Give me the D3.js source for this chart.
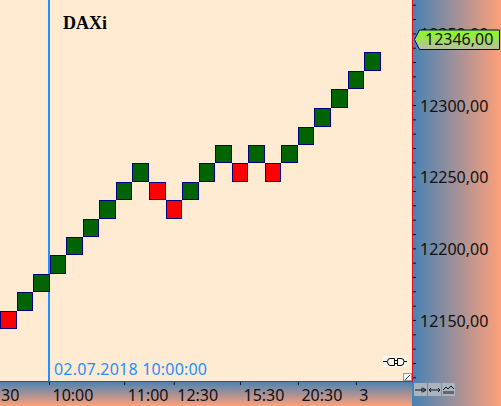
<!DOCTYPE html>
<html>
<head>
<meta charset="utf-8">
<script src="https://cdn.jsdelivr.net/npm/d3@7"></script>
<style>
  html, body { margin: 0; padding: 0; background: #ffebd2; }
  svg { display: block; }
  text { font-family: "Noto Sans", sans-serif; }
</style>
</head>
<body>
<div id="chart"></div>
<script>
// renko bricks, left to right
const brickLow = [12143.7, 12156.5, 12169.4, 12182.2, 12195.0, 12207.9, 12220.7, 12233.6, 12246.4,
  12233.6, 12220.7, 12233.6, 12246.4, 12259.3, 12246.4, 12259.3, 12246.4, 12259.3,
  12272.1, 12285.0, 12297.8, 12311.0, 12323.5];
const brickHigh = [12156.5, 12169.4, 12182.2, 12195.0, 12207.9, 12220.7, 12233.6, 12246.4, 12259.3,
  12246.4, 12233.6, 12246.4, 12259.3, 12272.1, 12259.3, 12272.1, 12259.3, 12272.1,
  12285.0, 12297.8, 12311.0, 12323.5, 12337.0];
const brickUp = [0, 1, 1, 1, 1, 1, 1, 1, 1, 0, 0, 1, 1, 1, 0, 1, 0, 1, 1, 1, 1, 1, 1];

// time axis: position in brick units and label
const timePos = [2.46, 7, 10, 14, 17.5, 21];
const timeLabels = ['10:00', '11:00', '12:30', '15:30', '20:30', '3'];

const priceLabels = [12350, 12300, 12250, 12200, 12150];
const lastPrice = 12346;
const cursorPos = 2.46;
const cursorLabel = '02.07.2018 10:00:00';
const title = 'DAXi';

const width = 501, height = 406;
const plotW = 412, plotH = 381;
const labelSize = '16px';

const svg = d3.select('#chart').append('svg')
  .attr('width', width)
  .attr('height', height);

const defs = svg.append('defs');

function addGradient(id, x2, y2, stops) {
  const g = defs.append('linearGradient')
    .attr('id', id)
    .attr('x1', 0).attr('y1', 0)
    .attr('x2', x2).attr('y2', y2);
  stops.forEach((c, i) => {
    g.append('stop').attr('offset', i / (stops.length - 1)).attr('stop-color', c);
  });
}
addGradient('panel-h', 1, 0, ['#4682b4', '#ffa07a']);
addGradient('panel-v', 0, 1, ['#4682b4', '#ffa07a']);
addGradient('tag-fill', 0, 1, ['#86ff10', '#b9bda6']);

// scales
const x = d3.scaleBand()
  .domain(d3.range(brickLow.length))
  .range([0, 16.55 * brickLow.length]);
const xPos = i => x.bandwidth() * (i + 0.5);
const y = d3.scaleLinear()
  .domain([12107.4, 12373.3])
  .range([plotH, 0]);

// backgrounds
svg.append('rect')
  .attr('width', plotW).attr('height', plotH)
  .attr('fill', '#ffebd2');
svg.append('rect')
  .attr('x', plotW).attr('width', width - plotW).attr('height', height)
  .attr('fill', 'url(#panel-h)');
svg.append('rect')
  .attr('y', plotH).attr('width', plotW).attr('height', height - plotH)
  .attr('fill', 'url(#panel-v)');

// cursor line
svg.append('line')
  .attr('x1', xPos(cursorPos)).attr('x2', xPos(cursorPos))
  .attr('y1', 0).attr('y2', plotH)
  .attr('stroke', '#1e90ff')
  .attr('stroke-width', 2);

// bricks
svg.append('g').selectAll('rect')
  .data(brickLow)
  .enter()
  .append('rect')
  .attr('x', (d, i) => Math.round(x(i)) + 0.5)
  .attr('y', (d, i) => Math.round(y(brickHigh[i])) + 0.5)
  .attr('width', (d, i) => Math.round(x(i) + x.bandwidth()) - Math.round(x(i)) - 1)
  .attr('height', (d, i) => Math.round(y(d)) - Math.round(y(brickHigh[i])) - 1)
  .attr('fill', (d, i) => brickUp[i] ? '#006400' : '#ff0000')
  .attr('stroke', '#000080')
  .attr('stroke-width', 1);

svg.append('text')
  .attr('x', 63).attr('y', 29)
  .style('font-family', '"Liberation Serif", serif')
  .style('font-weight', 'bold')
  .style('font-size', '18px')
  .attr('fill', '#000')
  .text(title);

svg.append('text')
  .attr('x', xPos(cursorPos) + 5).attr('y', 375)
  .style('font-size', labelSize)
  .style('letter-spacing', '0.2px')
  .attr('fill', '#1e90ff')
  .text(cursorLabel);

// plot border, only right and bottom
svg.append('path')
  .attr('d', `M${plotW + 0.5},0V${plotH + 0.5}H0`)
  .attr('fill', 'none')
  .attr('stroke', '#e01020');

// price axis
const priceFormat = d3.formatLocale({ decimal: ',', thousands: '', grouping: [3], currency: ['', ''] }).format('.2f');
const yAxis = d3.axisRight(y)
  .tickValues(d3.range(12110, 12380, 10))
  .tickSize(3)
  .tickPadding(4)
  .tickFormat(d => priceLabels.includes(d) ? priceFormat(d) : '');
const yG = svg.append('g')
  .attr('transform', `translate(${plotW + 1},0)`)
  .call(yAxis);
yG.select('.domain').remove();
yG.selectAll('text')
  .attr('dy', '.38em')
  .style('font-size', labelSize)
  .style('font-family', '"Noto Sans", sans-serif')
  .attr('fill', '#111');
yG.selectAll('line').attr('stroke', '#111');

// time axis
const xAxis = d3.axisBottom(d3.scaleLinear().domain([0, 1]).range([0, 1]))
  .tickValues(timePos.map(xPos))
  .tickSize(3)
  .tickPadding(5)
  .tickFormat((d, i) => timeLabels[i]);
const xG = svg.append('g')
  .attr('transform', `translate(0,${plotH + 1})`)
  .call(xAxis);
xG.select('.domain').remove();
xG.selectAll('text')
  .attr('text-anchor', 'start')
  .attr('dx', 3)
  .style('font-size', labelSize)
  .style('font-family', '"Noto Sans", sans-serif')
  .attr('fill', '#111');
xG.selectAll('line').attr('stroke', '#111');

// label cut off by the left edge
svg.append('text')
  .attr('x', 1).attr('y', 401)
  .style('font-size', labelSize)
  .attr('fill', '#111')
  .text('30');

// last price tag
const tagY = Math.round(y(lastPrice));
svg.append('path')
  .attr('d', `M414.5,${tagY + 0.5}l5,-9.5H499.5V${tagY + 10.5}H419.5Z`)
  .attr('fill', 'url(#tag-fill)')
  .attr('stroke', '#000080');
svg.append('text')
  .attr('x', 425).attr('y', tagY + 6)
  .style('font-size', labelSize)
  .attr('fill', '#111')
  .text(priceFormat(lastPrice));

// plug icon
svg.append('rect')
  .attr('x', 383).attr('y', 356).attr('width', 24).attr('height', 11)
  .attr('fill', '#fff7ec');
svg.append('path')
  .attr('d', 'M383,361.5H387M394.5,358.5H390Q387.5,358.5 387.5,361.5Q387.5,365.5 390,365.5H394.5V358.5M394.5,360.5H397.5M394.5,363.5H397.5M397.5,358.5V365.5H401Q404,365.5 404,361.5Q404,358.5 401,358.5H397.5M404,361.5H407')
  .attr('fill', 'none')
  .attr('stroke', '#000');

// resize grip
svg.append('rect')
  .attr('x', 403.5).attr('y', 373.5).attr('width', 8).attr('height', 7)
  .attr('fill', '#f4f4f4').attr('stroke', '#999');
svg.append('path')
  .attr('d', 'M405,380L410,375')
  .attr('stroke', '#333').attr('fill', 'none');

// toolbar buttons
const buttons = [414, 428, 442];
svg.append('g').selectAll('rect')
  .data(buttons)
  .enter()
  .append('rect')
  .attr('x', d => d).attr('y', 383)
  .attr('width', 13).attr('height', 13)
  .attr('fill', '#a9b4c0');
svg.append('path')
  .attr('d', 'M415,390H426M423,388L426,390L423,392M422,387.5V392.5M429,390H440M431,388L429,390L431,392M438,388L440,390L438,392M443,390L446,387L448,389L451,386L454,389')
  .attr('fill', 'none')
  .attr('stroke', '#111');
svg.append('rect')
  .attr('x', 443).attr('y', 391).attr('width', 11).attr('height', 3)
  .attr('fill', '#666');
</script>
</body>
</html>
